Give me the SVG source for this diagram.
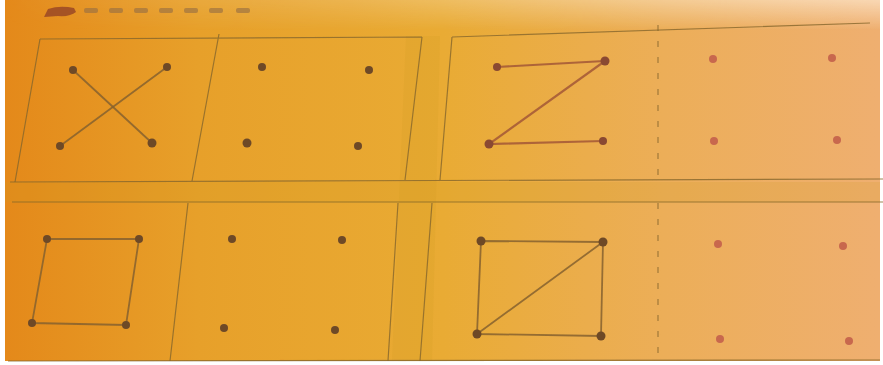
<svg xmlns="http://www.w3.org/2000/svg" width="883" height="365" viewBox="0 0 883 365">
  <defs>
    <linearGradient id="bg" x1="0" y1="0" x2="1" y2="0">
      <stop offset="0" stop-color="#E4891A"/>
      <stop offset="0.22" stop-color="#E7A02A"/>
      <stop offset="0.5" stop-color="#E9AB34"/>
      <stop offset="0.75" stop-color="#ECAE58"/>
      <stop offset="1" stop-color="#EFAF70"/>
    </linearGradient>
    <linearGradient id="topfade" x1="0" y1="0" x2="0" y2="1">
      <stop offset="0" stop-color="#FFF2E0" stop-opacity="0.6"/>
      <stop offset="1" stop-color="#FFF2E0" stop-opacity="0"/>
    </linearGradient>
    <linearGradient id="fadeX" x1="0" y1="0" x2="1" y2="0">
      <stop offset="0" stop-color="#FFFFFF" stop-opacity="0"/>
      <stop offset="0.4" stop-color="#FFFFFF" stop-opacity="0.3"/>
      <stop offset="1" stop-color="#FFFFFF" stop-opacity="1"/>
    </linearGradient>
    <mask id="fadeMask">
      <rect x="0" y="0" width="883" height="30" fill="url(#fadeX)"/>
    </mask>
    <filter id="soft" x="-5%" y="-5%" width="110%" height="110%">
      <feGaussianBlur stdDeviation="0.6"/>
    </filter>
    <style>
      .frame { fill: none; stroke: #86662C; stroke-width: 1.2; stroke-opacity: 0.8; }
      .dashed { fill: none; stroke: #86662C; stroke-width: 1.2; stroke-dasharray: 6 10; stroke-opacity: 0.75; }
      .band { fill: #CF9A22; fill-opacity: 0.18; }
      .edge { fill: none; stroke: #86622E; stroke-width: 1.8; stroke-linecap: round; stroke-opacity: 0.85; }
      .edge-z { fill: none; stroke: #A35836; stroke-width: 2.2; stroke-linecap: round; stroke-opacity: 0.85; }
      .dot { fill: #6E4A28; }
      .dot-z { fill: #8A4A30; }
      .dot-pink { fill: #C8684E; }
      .tick { fill: #9A7040; fill-opacity: 0.65; }
    </style>
  </defs>

  <!-- paper -->
  <rect x="0" y="0" width="883" height="365" fill="#FFFFFF"/>
  <rect x="5" y="0" width="875" height="361" fill="url(#bg)"/>
  <rect x="5" y="0" width="875" height="30" fill="url(#topfade)" mask="url(#fadeMask)"/>
  <rect x="5" y="182" width="875" height="20" class="band"/>
  <polygon points="406,36 440,36 432,361 392,361" class="band"/>

  <!-- top header marks -->
  <g id="header" filter="url(#soft)">
    <path d="M44,17 L48,9 Q60,5 74,8 L76,12 Q70,17 58,16 Z" fill="#9A4824" fill-opacity="0.85"/>
    <rect x="84" y="8" width="14" height="5" rx="2" class="tick"/>
    <rect x="109" y="8" width="14" height="5" rx="2" class="tick"/>
    <rect x="134" y="8" width="14" height="5" rx="2" class="tick"/>
    <rect x="159" y="8" width="14" height="5" rx="2" class="tick"/>
    <rect x="184" y="8" width="14" height="5" rx="2" class="tick"/>
    <rect x="209" y="8" width="14" height="5" rx="2" class="tick"/>
    <rect x="236" y="8" width="14" height="5" rx="2" class="tick"/>
  </g>

  <!-- frames -->
  <g id="frames" filter="url(#soft)">
    <path class="frame" d="M40,39 L422,37 M40,39 L15,182 M219,34 L192,181 M422,37 L405,180"/>
    <path class="frame" d="M452,37 L870,23 M452,37 L440,180"/>
    <line class="dashed" x1="658" y1="25" x2="658" y2="178"/>
    <path class="frame" d="M10,182 L883,179"/>
    <path class="frame" d="M12,202 L883,202"/>
    <path class="frame" d="M188,203 L170,361 M398,203 L388,361 M432,203 L420,361"/>
    <line class="dashed" x1="658" y1="203" x2="658" y2="361"/>
    <path class="frame" d="M8,361 L880,360"/>
  </g>

  <!-- connectors -->
  <g id="connectors" filter="url(#soft)">
    <line class="edge" x1="73" y1="70" x2="152" y2="143"/>
    <line class="edge" x1="167" y1="67" x2="60" y2="146"/>
    <polyline class="edge-z" points="497,67 605,61 489,144 603,141"/>
    <polygon class="edge" points="47,239 139,239 126,325 32,323"/>
    <polygon class="edge" points="481,241 603,242 601,336 477,334"/>
    <line class="edge" x1="477" y1="334" x2="603" y2="242"/>
  </g>

  <!-- nodes (dot panels) -->
  <g id="panel-x" filter="url(#soft)">
    <circle class="dot" cx="73" cy="70" r="4"/>
    <circle class="dot" cx="167" cy="67" r="4"/>
    <circle class="dot" cx="60" cy="146" r="4"/>
    <circle class="dot" cx="152" cy="143" r="4.5"/>
  </g>
  <g id="panel-dots-1" filter="url(#soft)">
    <circle class="dot" cx="262" cy="67" r="4"/>
    <circle class="dot" cx="369" cy="70" r="4"/>
    <circle class="dot" cx="247" cy="143" r="4.5"/>
    <circle class="dot" cx="358" cy="146" r="4"/>
  </g>
  <g id="panel-z" filter="url(#soft)">
    <circle class="dot-z" cx="497" cy="67" r="4"/>
    <circle class="dot-z" cx="605" cy="61" r="4.5"/>
    <circle class="dot-z" cx="489" cy="144" r="4.5"/>
    <circle class="dot-z" cx="603" cy="141" r="4"/>
  </g>
  <g id="panel-dots-2" filter="url(#soft)">
    <circle class="dot-pink" cx="713" cy="59" r="4"/>
    <circle class="dot-pink" cx="832" cy="58" r="4"/>
    <circle class="dot-pink" cx="714" cy="141" r="4"/>
    <circle class="dot-pink" cx="837" cy="140" r="4"/>
  </g>
  <g id="panel-square" filter="url(#soft)">
    <circle class="dot" cx="47" cy="239" r="4"/>
    <circle class="dot" cx="139" cy="239" r="4"/>
    <circle class="dot" cx="32" cy="323" r="4"/>
    <circle class="dot" cx="126" cy="325" r="4"/>
  </g>
  <g id="panel-dots-3" filter="url(#soft)">
    <circle class="dot" cx="232" cy="239" r="4"/>
    <circle class="dot" cx="342" cy="240" r="4"/>
    <circle class="dot" cx="224" cy="328" r="4"/>
    <circle class="dot" cx="335" cy="330" r="4"/>
  </g>
  <g id="panel-square-diagonal" filter="url(#soft)">
    <circle class="dot" cx="481" cy="241" r="4.5"/>
    <circle class="dot" cx="603" cy="242" r="4.5"/>
    <circle class="dot" cx="477" cy="334" r="4.5"/>
    <circle class="dot" cx="601" cy="336" r="4.5"/>
  </g>
  <g id="panel-dots-4" filter="url(#soft)">
    <circle class="dot-pink" cx="718" cy="244" r="4"/>
    <circle class="dot-pink" cx="843" cy="246" r="4"/>
    <circle class="dot-pink" cx="720" cy="339" r="4"/>
    <circle class="dot-pink" cx="849" cy="341" r="4"/>
  </g>
</svg>
